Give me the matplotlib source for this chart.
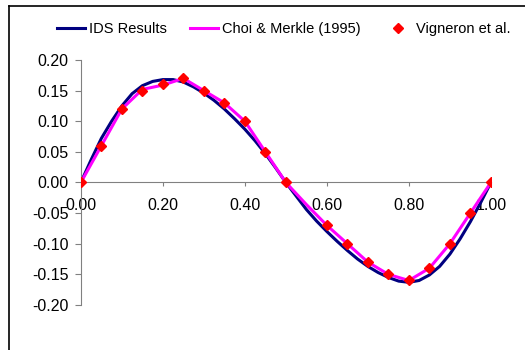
import matplotlib
matplotlib.use("Agg")
import matplotlib.pyplot as plt
from matplotlib.lines import Line2D

plt.rcParams['font.family'] = ['Liberation Sans', 'DejaVu Sans']

# IDS results (dense curve)
ids_x = [0.0, 0.025, 0.05, 0.075, 0.10, 0.125, 0.15, 0.175, 0.20, 0.225, 0.25,
         0.275, 0.30, 0.325, 0.35, 0.375, 0.40, 0.425, 0.45, 0.475, 0.50,
         0.525, 0.55, 0.575, 0.60, 0.625, 0.65, 0.675, 0.70, 0.725, 0.75,
         0.775, 0.80, 0.825, 0.85, 0.875, 0.90, 0.925, 0.95, 0.975, 1.0]
ids_y = [0.0, 0.037, 0.072, 0.10, 0.125, 0.145, 0.158, 0.165, 0.168, 0.168, 0.164,
         0.156, 0.146, 0.134, 0.120, 0.104, 0.087, 0.068, 0.047, 0.024, 0.0,
         -0.022, -0.044, -0.063, -0.080, -0.096, -0.111, -0.125, -0.137, -0.147, -0.155,
         -0.161, -0.163, -0.160, -0.151, -0.137, -0.117, -0.092, -0.064, -0.033, 0.0]

# Choi & Merkle (1995)
choi_x = [0.0, 0.05, 0.10, 0.15, 0.20, 0.25, 0.30, 0.35, 0.40, 0.45, 0.50,
          0.55, 0.60, 0.65, 0.70, 0.75, 0.80, 0.85, 0.90, 0.95, 1.0]
choi_y = [0.0, 0.06, 0.12, 0.152, 0.159, 0.17, 0.15, 0.13, 0.10, 0.05, 0.0,
          -0.036, -0.07, -0.10, -0.13, -0.15, -0.16, -0.14, -0.10, -0.05, 0.0]

# Vigneron et al.
vig_x = [0.0, 0.05, 0.10, 0.15, 0.20, 0.25, 0.30, 0.35, 0.40, 0.45, 0.50,
         0.60, 0.65, 0.70, 0.75, 0.80, 0.85, 0.90, 0.95, 1.0]
vig_y = [0.0, 0.06, 0.12, 0.15, 0.16, 0.17, 0.15, 0.13, 0.10, 0.05, 0.0,
         -0.07, -0.10, -0.13, -0.15, -0.16, -0.14, -0.10, -0.05, 0.0]

xticks = [0.0, 0.2, 0.4, 0.6, 0.8, 1.0]
yticks = [-0.20, -0.15, -0.10, -0.05, 0.0, 0.05, 0.10, 0.15, 0.20]

fig = plt.figure(figsize=(5.25, 3.5), dpi=100)
ax = fig.add_axes([0.154, 0.1286, 0.781, 0.70])

ax.plot(ids_x, ids_y, color='#000080', lw=2.2, label='IDS Results')
ax.plot(choi_x, choi_y, color='#ff00ff', lw=2.2, label='Choi & Merkle (1995)')
ax.plot(vig_x, vig_y, ls='none', marker='D', ms=5, color='#ff0000',
        label='Vigneron et al.', zorder=5)

ax.set_xlim(0, 1.0)
ax.set_ylim(-0.2, 0.2)
ax.set_xticks(xticks)
ax.set_xticklabels([f"{v:.2f}" for v in xticks])
ax.set_yticks(yticks)
ax.set_yticklabels([f"{v:.2f}" for v in yticks])

for s in ['top', 'right']:
    ax.spines[s].set_visible(False)
ax.spines['bottom'].set_position(('data', 0))
ax.spines['bottom'].set_color('#808080')
ax.spines['left'].set_color('#808080')
ax.tick_params(axis='both', direction='out', length=4, color='#808080',
               labelsize=11.5)
ax.tick_params(axis='x', pad=8.5, length=3)
ax.tick_params(axis='y', pad=5)

fig.legend(loc='center left', bbox_to_anchor=(0.1086, 0.918), ncol=3,
           frameon=False, fontsize=10.5, handlelength=1.9, handletextpad=0.3,
           columnspacing=1.6, borderpad=0, borderaxespad=0)

# outer frame (only top and left edges visible)
fig.add_artist(Line2D([9 / 525, 1.01], [1 - 6 / 350, 1 - 6 / 350],
                      transform=fig.transFigure, color='black', lw=1.2))
fig.add_artist(Line2D([9 / 525, 9 / 525], [-0.01, 1 - 6 / 350],
                      transform=fig.transFigure, color='black', lw=1.2))

fig.savefig('out.png', dpi=100)
